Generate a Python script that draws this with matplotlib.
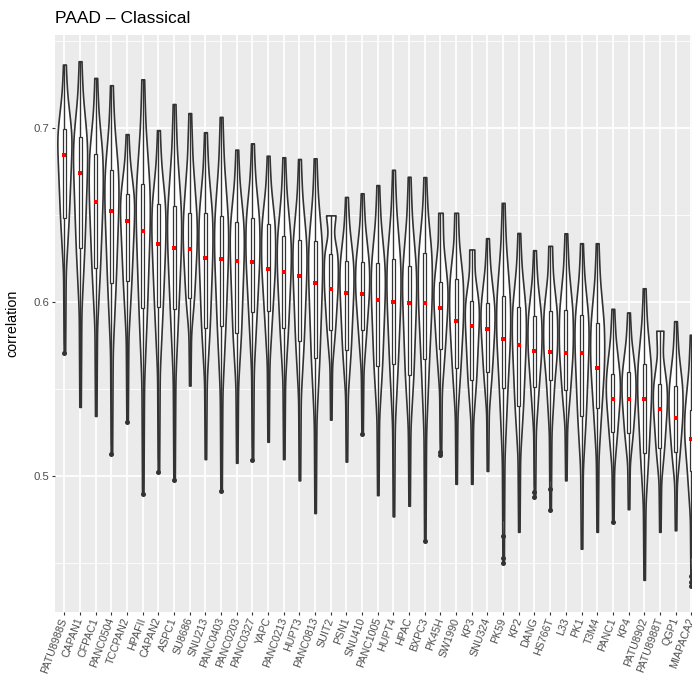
import numpy as np
import matplotlib
matplotlib.use("Agg")
import matplotlib.pyplot as plt
from matplotlib.patches import Rectangle

plt.rcParams['font.family'] = ['Liberation Sans', 'DejaVu Sans']

# cell lines, ordered by the red summary point
names = ["PATU8988S", "CAPAN1", "CFPAC1", "PANC0504", "TCCPAN2", "HPAFII", "CAPAN2",
         "ASPC1", "SU8686", "SNU213", "PANC0403", "PANC0203", "PANC0327", "YAPC",
         "PANC0213", "HUPT3", "PANC0813", "SUIT2", "PSN1", "SNU410", "PANC1005",
         "HUPT4", "HPAC", "BXPC3", "PK45H", "SW1990", "KP3", "SNU324", "PK59", "KP2",
         "DANG", "HS766T", "L33", "PK1", "T3M4", "PANC1", "KP4", "PATU8902",
         "PATU8988T", "QGP1", "MIAPACA2"]

# red points
center = [0.6848, 0.6742, 0.6577, 0.6523, 0.6465, 0.6408, 0.6334, 0.6313, 0.6305, 0.6254,
          0.6248, 0.6239, 0.6229, 0.6193, 0.6174, 0.6153, 0.6108, 0.6075, 0.6052, 0.6048,
          0.6015, 0.6000, 0.5998, 0.5996, 0.5966, 0.5889, 0.5865, 0.5844, 0.5790, 0.5752,
          0.5718, 0.5712, 0.5708, 0.5706, 0.5624, 0.5443, 0.5443, 0.5441, 0.5386, 0.5337,
          0.5212]

q1 = [0.6482, 0.6313, 0.6197, 0.6113, 0.6123, 0.5965, 0.5971, 0.5958, 0.6022, 0.5853,
      0.5863, 0.5821, 0.5946, 0.5950, 0.5849, 0.5775, 0.5680, 0.5842, 0.5723, 0.5842,
      0.5632, 0.5642, 0.5584, 0.5672, 0.5729, 0.5622, 0.5552, 0.5596, 0.5507, 0.5406,
      0.5515, 0.5552, 0.5494, 0.5345, 0.5393, 0.5254, 0.5247, 0.5131, 0.5162, 0.5141,
      0.5027]

q3 = [0.6994, 0.6947, 0.6852, 0.6757, 0.6620, 0.6677, 0.6567, 0.6552, 0.6510, 0.6510,
      0.6493, 0.6461, 0.6484, 0.6451, 0.6381, 0.6360, 0.6349, 0.6277, 0.6235, 0.6233,
      0.6227, 0.6250, 0.6210, 0.6283, 0.6118, 0.6132, 0.6004, 0.5996, 0.6033, 0.5971,
      0.5921, 0.5952, 0.5956, 0.5924, 0.5880, 0.5590, 0.5598, 0.5643, 0.5527, 0.5521,
      0.5378]

# violin top (max) and bottom (min incl. outliers)
vtop = [0.7366, 0.7385, 0.7289, 0.7247, 0.6966, 0.7281, 0.6989, 0.7139, 0.7087, 0.6977,
        0.7065, 0.6877, 0.6913, 0.6842, 0.6833, 0.6823, 0.6827, 0.6499, 0.6605, 0.6626,
        0.6673, 0.6761, 0.6721, 0.6719, 0.6514, 0.6514, 0.6303, 0.6368, 0.6571, 0.6398,
        0.6299, 0.6324, 0.6396, 0.6339, 0.6339, 0.5962, 0.5941, 0.6080, 0.5836, 0.5891,
        0.5813]

vmin = [0.5707, 0.5398, 0.5346, 0.5126, 0.5312, 0.4898, 0.5022, 0.4980, 0.5521, 0.5098,
        0.4913, 0.5077, 0.5094, 0.5198, 0.5098, 0.4976, 0.4788, 0.5325, 0.5084, 0.5245,
        0.4891, 0.4769, 0.4830, 0.4627, 0.5124, 0.4956, 0.4956, 0.5030, 0.4500, 0.4680,
        0.4881, 0.4805, 0.4976, 0.4583, 0.4680, 0.4735, 0.4810, 0.4404, 0.4680, 0.4689,
        0.4370]

whisk_lo = [0.5760, 0.5398, 0.5346, 0.5180, 0.5400, 0.4950, 0.5100, 0.5100, 0.5521, 0.5098,
            0.4950, 0.5077, 0.5170, 0.5198, 0.5098, 0.4976, 0.4788, 0.5325, 0.5084, 0.5290,
            0.4891, 0.4769, 0.4830, 0.4780, 0.5190, 0.4956, 0.4956, 0.5030, 0.4740, 0.4680,
            0.4940, 0.4970, 0.4976, 0.4583, 0.4680, 0.4770, 0.4810, 0.4404, 0.4680, 0.4689,
            0.4530]

outliers = {
    "PATU8988S": [0.5707],
    "PANC0504": [0.5126],
    "TCCPAN2": [0.5312],
    "HPAFII": [0.4898],
    "CAPAN2": [0.5022],
    "ASPC1": [0.4980],
    "PANC0403": [0.4913],
    "PANC0327": [0.5094],
    "SNU410": [0.5245],
    "BXPC3": [0.4627],
    "PK45H": [0.5137, 0.5124],
    "PK59": [0.4654, 0.4528, 0.4500],
    "DANG": [0.4908, 0.4881],
    "HS766T": [0.4927, 0.4805],
    "PANC1": [0.4735],
    "MIAPACA2": [0.4427, 0.4393, 0.4370],
}

# relative width of the flat top of each violin
top_w = [0.18] * len(names)
top_w[names.index("SUIT2")] = 0.7
top_w[names.index("PATU8988T")] = 0.5
top_w[names.index("KP3")] = 0.35
top_w[names.index("PK45H")] = 0.3
top_w[names.index("SW1990")] = 0.25
top_w[names.index("HS766T")] = 0.25

n = len(names)
dark = "#333333"

fig = plt.figure(figsize=(6.92, 6.76), dpi=100)
ax = fig.add_axes([55 / 692, 64 / 676, 645.6 / 692, 577 / 676])
ax.set_facecolor("#EBEBEB")
for s in ax.spines.values():
    s.set_visible(False)


def outline(i):
    lo, hi = vmin[i], vtop[i]
    ys = [lo, q1[i] - 0.4 * (q1[i] - lo), q1[i], center[i],
          (center[i] + q3[i]) / 2, q3[i], q3[i] + 0.55 * (hi - q3[i]), hi]
    ws = [0.1, 0.18, 0.6, 0.95, 1.0, 0.93, 0.38, top_w[i]]
    yy = np.linspace(lo, hi, 300)
    ww = np.interp(yy, ys, ws)
    k = np.exp(-0.5 * (np.arange(-24, 25) / 8.0) ** 2)
    k /= k.sum()
    padded = np.concatenate([np.full(24, ww[0]), ww, np.full(24, ww[-1])])
    ww = np.convolve(padded, k, mode="valid")
    ww = ww / ww.max()
    return yy, ww


for i, name in enumerate(names):
    yy, ww = outline(i)
    ax.fill_betweenx(yy, i - 0.45 * ww, i + 0.45 * ww, facecolor="white",
                     edgecolor=dark, lw=1.2, zorder=2)
    # boxplot
    ax.vlines(i, whisk_lo[i], q1[i], color=dark, lw=1.0, zorder=3)
    ax.vlines(i, q3[i], vtop[i], color=dark, lw=1.0, zorder=3)
    ax.add_patch(Rectangle((i - 0.1, q1[i]), 0.2, q3[i] - q1[i], facecolor="white",
                           edgecolor=dark, lw=0.9, zorder=4))
    ax.hlines(center[i], i - 0.1, i + 0.1, color=dark, lw=0.9, zorder=4)
    for v in outliers.get(name, []):
        ax.plot(i, v, "o", color=dark, ms=3.6, mew=0, zorder=5)
    ax.plot(i, center[i], "s", color="red", ms=2.3, mew=0, zorder=6)

allv = vmin + vtop
rng = max(allv) - min(allv)
ax.set_ylim(min(allv) - 0.05 * rng, max(allv) + 0.05 * rng)
ax.set_xlim(-0.6, n - 1 + 0.6)

ax.set_yticks([0.5, 0.6, 0.7])
ax.set_yticklabels(["0.5", "0.6", "0.7"])
ax.set_yticks([0.45, 0.55, 0.65, 0.75], minor=True)
ax.set_xticks(range(n))
ax.set_xticklabels(names, rotation=70, rotation_mode="anchor", ha="right", va="center",
                   fontsize=7.7)
ax.grid(which="major", color="white", lw=1.25)
ax.grid(which="minor", axis="y", color="white", lw=0.6)
ax.set_axisbelow(True)
ax.tick_params(which="major", length=2.4, width=0.8, color=dark, labelcolor="#4D4D4D",
               pad=2)
ax.tick_params(axis="y", labelsize=8.2)
ax.tick_params(which="minor", length=0)

fig.text(12 / 692, 1 - 323.5 / 676, "correlation", rotation=90, ha="center", va="center",
         fontsize=10.3)
fig.text(55 / 692, 1 - 23 / 676, "PAAD – Classical", ha="left", va="baseline", fontsize=12.5)

fig.savefig("out.png", dpi=100)
